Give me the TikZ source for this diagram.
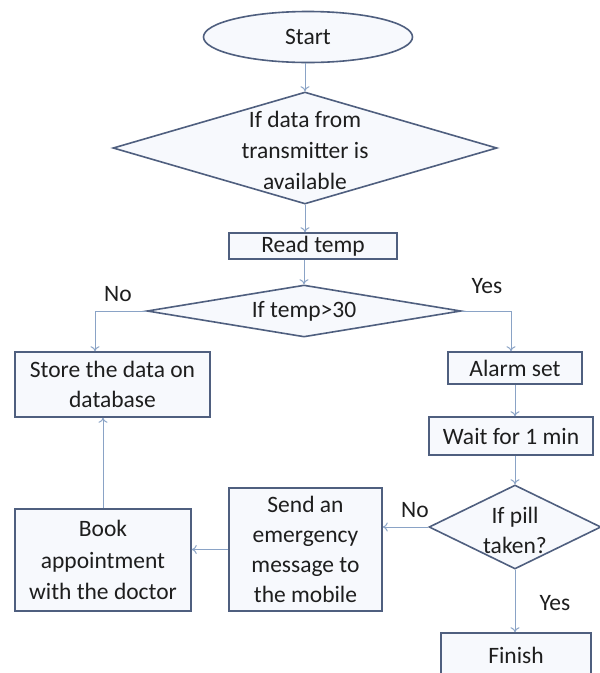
\documentclass[tikz,border=0pt]{standalone}
\usepackage{fontspec}
\setmainfont{Carlito}
\usetikzlibrary{shapes.geometric,arrows.meta}
\definecolor{edge}{HTML}{4F5F7F}
\definecolor{boxfill}{HTML}{F7F9FD}
\definecolor{arrowc}{HTML}{8AA3C6}
\definecolor{txt}{HTML}{1E1E1E}
\tikzset{
  base/.style={draw=edge, line width=1.6pt, fill=boxfill, inner sep=0pt},
  procbox/.style={base, rectangle, align=center, text=txt, font=\fontsize{23.5}{30}\selectfont},
  decision/.style={base, diamond},
  dtext/.style={align=center, text=txt, inner sep=0pt, font=\fontsize{23.5}{31}\selectfont},
  lbl/.style={text=txt, inner sep=0pt, font=\fontsize{23.5}{28}\selectfont},
  arr/.style={draw=arrowc, line width=1pt, -{To[length=5pt,width=9pt]}}
}
\begin{document}
\begin{tikzpicture}[x=1pt,y=-1pt]
\useasboundingbox (0,0) rectangle (600,673);
\clip (0,0) rectangle (600,673);
\fill[white] (0,0) rectangle (600,673);

% nodes
\node[base, ellipse, minimum width=209pt, minimum height=51pt, text=txt, font=\fontsize{23.5}{28}\selectfont] (start) at (308,37) {Start};

\node[decision, minimum width=384pt, minimum height=112pt] (d1) at (305,148) {};
\node[dtext] (d1t) at (305,150) {If data from\\transmitter is\\available};

\node[procbox, minimum width=168pt, minimum height=26pt] (read) at (313,246) {Read temp};

\node[decision, minimum width=314pt, minimum height=52pt] (d2) at (304,311) {};
\node[dtext] (d2t) at (304,311) {If temp>30};

\node[procbox, minimum width=195pt, minimum height=65pt] (store) at (112.5,384.5) {Store the data on\\database};

\node[procbox, minimum width=134pt, minimum height=32pt] (alarm) at (515,368) {Alarm set};

\node[procbox, minimum width=164pt, minimum height=38pt] (wait) at (511,436) {Wait for 1 min};

\node[decision, minimum width=172pt, minimum height=84pt] (d3) at (515,527) {};
\node[dtext, font=\fontsize{23.5}{30}\selectfont] (d3t) at (515,530) {If pill\\taken?};

\node[procbox, minimum width=153pt, minimum height=123pt] (send) at (305.5,549.5) {Send an\\emergency\\message to\\the mobile};

\node[procbox, minimum width=176pt, minimum height=102pt, font=\fontsize{23.5}{31.5}\selectfont] (book) at (103,560) {Book\\appointment\\with the doctor};

\node[procbox, minimum width=150pt, minimum height=44pt] (finish) at (516,655) {Finish};

% labels
\node[lbl] (no1) at (118,294) {No};
\node[lbl] (yes1) at (487,286) {Yes};
\node[lbl] (no2) at (415,510) {No};
\node[lbl] (yes2) at (555,603) {Yes};

% connectors
\draw[arr] (d1.north |- start.south) -- (d1.north);
\draw[arr] (d1.south) -- (d1.south |- read.north);
\draw[arr] (d2.north |- read.south) -- (d2.north);
\draw[arr] (d2.west) -| ([xshift=-17.5pt]store.north);
\draw[arr] (d2.east) -| ([xshift=-4pt]alarm.north);
\draw[arr] (alarm.south) -- (alarm.south |- wait.north);
\draw[arr] (d3.north |- wait.south) -- (d3.north);
\draw[arr] (d3.west) -- (d3.west -| send.east);
\draw[arr] (send.west) -- (send.west -| book.east);
\draw[arr] (book.north) -- (book.north |- store.south);
\draw[arr] (d3.south) -- (d3.south |- finish.north);
\end{tikzpicture}
\end{document}
